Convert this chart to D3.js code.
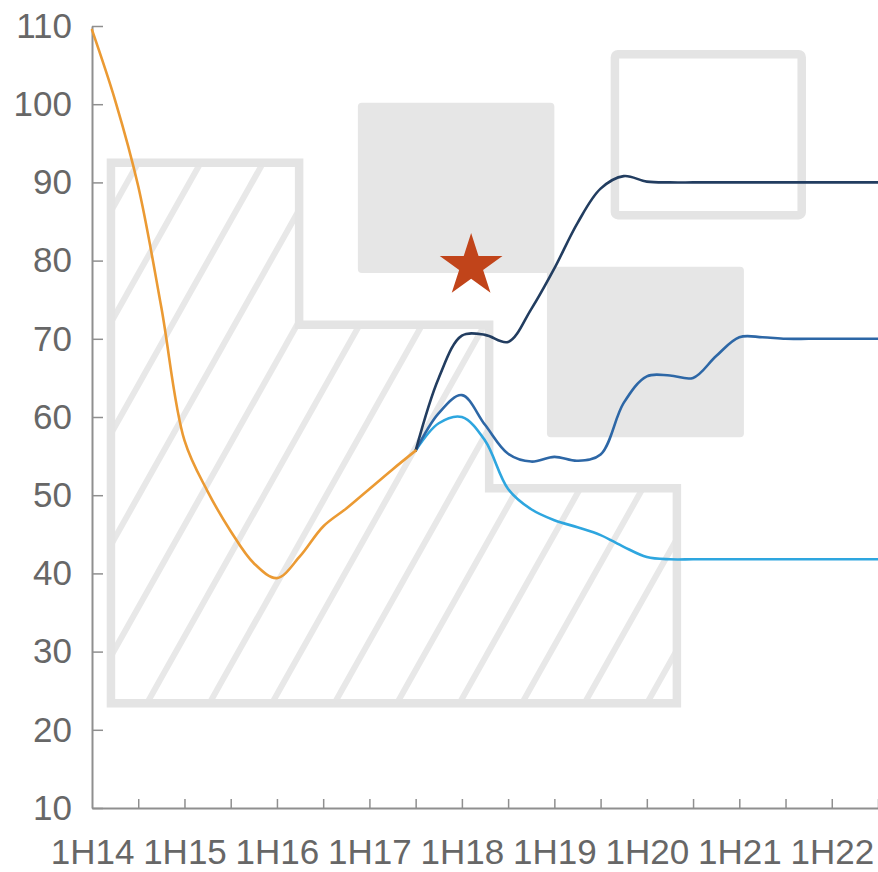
<!DOCTYPE html>
<html>
<head>
<meta charset="utf-8">
<script src="https://cdn.jsdelivr.net/npm/d3@7"></script>
<style>
  html, body { margin: 0; padding: 0; background: #fff; }
  svg { display: block; }
  text { font-family: "Liberation Sans", Arial, sans-serif; }
</style>
</head>
<body>
<svg id="chart" width="878" height="872"></svg>
<script>
// ---- data ----
const periods = ["1H14","2H14","1H15","2H15","1H16","2H16","1H17","2H17","1H18","2H18",
                 "1H19","2H19","1H20","2H20","1H21","2H21","1H22","2H22"];
const yTicks = [10, 20, 30, 40, 50, 60, 70, 80, 90, 100, 110];

// values read every quarter of a half-year step (t = period index, step 0.5)
const actualStart = 0;
const actualValues = [109.5, 100.5, 89.5, 74, 57, 50.5, 45.4, 41.3, 39.4, 42.2, 46, 48.3, 50.8, 53.3, 55.7];

const forecastStart = 7;
const highValues = [55.7, 65, 70.4, 70.5, 69.6, 73.8, 79, 84.8, 89.2, 90.8, 90.1, 90, 90, 90, 90, 90, 90, 90, 90, 90, 90];
const midValues  = [55.7, 60.5, 62.8, 59, 55.3, 54.3, 54.9, 54.4, 55.2, 61.8, 65.2, 65.3, 65.0, 67.8, 70.2, 70.2, 70, 70, 70, 70, 70];
const lowValues  = [55.7, 59.2, 60, 57, 50.8, 48.2, 46.8, 45.9, 44.9, 43.4, 42.1, 41.8, 41.8, 41.8, 41.8, 41.8, 41.8, 41.8, 41.8, 41.8, 41.8];

// background annotation shapes, in data units (period index, value)
const hatchArea = [[0.41,92.5],[4.48,92.5],[4.48,71.8],[8.59,71.8],[8.59,50.9],[12.65,50.9],[12.65,23.4],[0.41,23.4]];
const shadedBoxes = [
  {x0: 5.75, x1: 10.0, y0: 78.4, y1: 100.2},
  {x0: 9.84, x1: 14.1, y0: 57.4, y1: 79.2}
];
const outlineBox = {x0: 11.31, x1: 15.35, y0: 85.8, y1: 106.4};
const starPoint = [8.2, 79.3];

// ---- drawing ----
const svg = d3.select("#chart");
const x = d3.scaleLinear().domain([0, periods.length - 1]).range([92, 878]);
const y = d3.scaleLinear().domain([10, 110]).range([808, 26]);

const toSeries = (start, vals) => vals.map((v, i) => ({t: start + i * 0.5, v}));

// hatch clip
const defs = svg.append("defs");
const polyPath = d3.line().x(d => x(d[0])).y(d => y(d[1]));
defs.append("clipPath").attr("id", "hatchClip")
  .append("path").attr("d", polyPath(hatchArea) + "Z");

const hatchG = svg.append("g").attr("clip-path", "url(#hatchClip)");
const bottomY = y(23.4), topY = y(92.5);
const slopeInv = 1 / 1.78;
const spacing = 62.5;
const x0b = 147;
for (let k = -10; k < 14; k++) {
  const xb = x0b + spacing * k;
  const yB = bottomY + 20, yT = topY - 20;
  hatchG.append("line")
    .attr("x1", xb - slopeInv * 20).attr("y1", yB)
    .attr("x2", xb + slopeInv * (bottomY - yT)).attr("y2", yT)
    .attr("stroke", "#e8e8e8").attr("stroke-width", 6);
}
svg.append("path").attr("d", polyPath(hatchArea) + "Z")
  .attr("fill", "none").attr("stroke", "#e4e4e4").attr("stroke-width", 8.5)
  .attr("stroke-linejoin", "miter");

// shaded boxes
svg.selectAll("rect.shade").data(shadedBoxes).join("rect")
  .attr("class", "shade")
  .attr("x", d => x(d.x0)).attr("y", d => y(d.y1))
  .attr("width", d => x(d.x1) - x(d.x0)).attr("height", d => y(d.y0) - y(d.y1))
  .attr("rx", 4).attr("fill", "#e6e6e6");

// outline box
svg.append("rect")
  .attr("x", x(outlineBox.x0)).attr("y", y(outlineBox.y1))
  .attr("width", x(outlineBox.x1) - x(outlineBox.x0))
  .attr("height", y(outlineBox.y0) - y(outlineBox.y1))
  .attr("rx", 3).attr("fill", "none").attr("stroke", "#e4e4e4").attr("stroke-width", 8.5);

// axes
const axisColor = "#8f8f8f", textColor = "#676767";
const yAxis = svg.append("g").attr("transform", `translate(${x(0)},0)`)
  .call(d3.axisLeft(y).tickValues(yTicks).tickSize(-11).tickSizeOuter(0).tickPadding(20));
const xAxis = svg.append("g").attr("transform", `translate(0,${y(10)})`)
  .call(d3.axisBottom(x).tickValues(d3.range(periods.length)).tickSize(-9).tickSizeOuter(0).tickPadding(31)
    .tickFormat(i => i % 2 === 0 ? periods[i] : ""));
[yAxis, xAxis].forEach(g => {
  g.select(".domain").attr("stroke", axisColor).attr("stroke-width", 2);
  g.selectAll(".tick line").attr("stroke", axisColor).attr("stroke-width", 1.5);
  g.selectAll(".tick text").attr("fill", textColor).attr("font-size", 35)
    .attr("font-family", "'Liberation Sans', Arial, sans-serif");
});
xAxis.select(".tick line").remove();

// lines
const line = d3.line().x(d => x(d.t)).y(d => y(d.v)).curve(d3.curveCatmullRom.alpha(0.5));
const series = [
  {vals: toSeries(forecastStart, lowValues), color: "#2ea6df"},
  {vals: toSeries(forecastStart, midValues), color: "#2d67a6"},
  {vals: toSeries(forecastStart, highValues), color: "#223d60"},
  {vals: toSeries(actualStart, actualValues), color: "#eb9a33"}
];
svg.selectAll("path.series").data(series).join("path")
  .attr("class", "series")
  .attr("d", d => line(d.vals))
  .attr("fill", "none").attr("stroke", d => d.color).attr("stroke-width", 2.6)
  .attr("stroke-linejoin", "round").attr("stroke-linecap", "round");

// star
svg.append("path")
  .attr("d", d3.symbol(d3.symbolStar).size(1220)())
  .attr("transform", `translate(${x(starPoint[0])},${y(starPoint[1])})`)
  .attr("fill", "#c1441a");
</script>
</body>
</html>
